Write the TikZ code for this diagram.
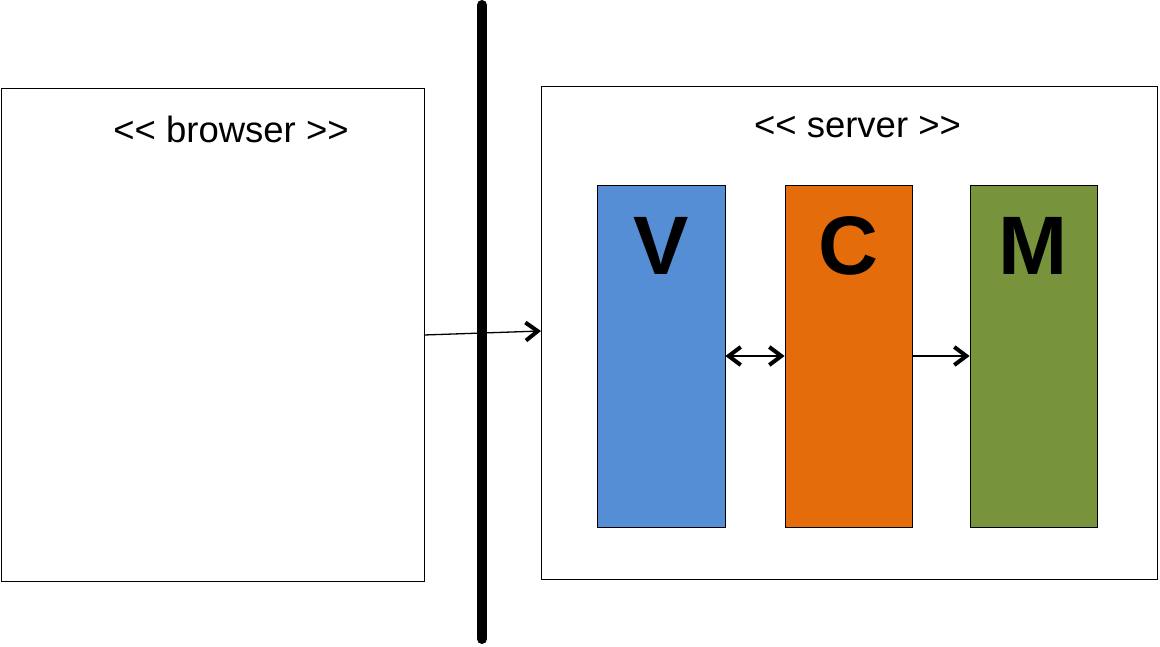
\documentclass[tikz,border=0pt]{standalone}
\usepackage{fontspec}
\setmainfont{Liberation Sans}
\usetikzlibrary{arrows.meta}
\definecolor{vblue}{HTML}{558ED5}
\definecolor{corange}{HTML}{E46C0A}
\definecolor{mgreen}{HTML}{77933C}
\tikzset{
  frame/.style={draw=black, line width=0.8pt, fill=white},
  layer/.style={draw=black, line width=0.8pt},
  letter/.style={font=\fontsize{83}{83}\selectfont\bfseries, anchor=base},
  title/.style={font=\fontsize{36.5}{36.5}\selectfont, anchor=base},
  conn/.style={line width=1.3pt, -{Straight Barb[length=12pt,width=18pt,line width=4pt]}},
  biconn/.style={line width=1.3pt, {Straight Barb[length=12pt,width=18pt,line width=4pt]}-{Straight Barb[length=12pt,width=18pt,line width=4pt]}}
}
\begin{document}
\begin{tikzpicture}[x=1pt,y=-1pt]
\useasboundingbox (0,0) rectangle (1160,647);
% browser
\draw[frame] (1,88) rectangle (424,581);
\node[title] (btitle) at (231,143) {{<}{<} browser {>}{>}};
% server
\draw[frame] (541,86) rectangle (1157,579);
\node[title] (stitle) at (857.5,138) {{<}{<} server {>}{>}};
% layers
\node[layer, fill=vblue, minimum width=128pt, minimum height=342pt, inner sep=0pt] (V) at (661,356) {};
\node[layer, fill=corange, minimum width=127pt, minimum height=342pt, inner sep=0pt] (C) at (848.5,356) {};
\node[layer, fill=mgreen, minimum width=127pt, minimum height=342pt, inner sep=0pt] (M) at (1033.5,356) {};
\node[letter] (Vl) at (661,275) {V};
\node[letter] (Cl) at (848.5,275) {C};
\node[letter] (Ml) at (1033.5,275) {M};
% connectors
\coordinate (bout) at (424,335);
\coordinate (sin) at (541,331);
\draw[conn] (bout) -- (sin);
\draw[biconn] (V.east |- 0,356) -- (C.west |- 0,356);
\draw[conn] (C.east |- 0,356) -- (M.west |- 0,356);
% divider
\coordinate (dtop) at (482,5);
\coordinate (dbot) at (482,639);
\draw[line width=10pt, line cap=round] (dtop) -- (dbot);
\end{tikzpicture}
\end{document}
